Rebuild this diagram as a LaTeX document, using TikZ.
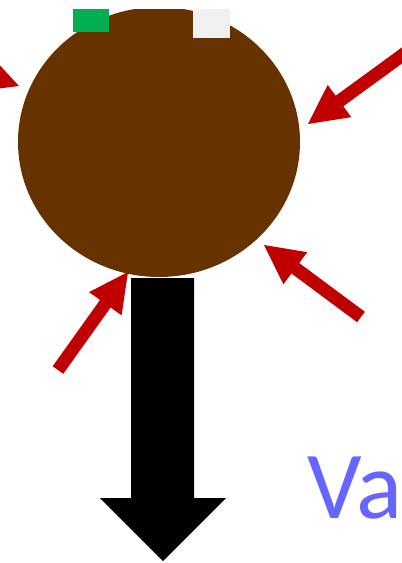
\documentclass[tikz,border=0pt]{standalone}
\usepackage{fontspec}
\setmainfont{Carlito}
\usetikzlibrary{calc}
\definecolor{brownc}{RGB}{102,51,0}
\definecolor{arrowred}{RGB}{192,0,0}
\definecolor{greenc}{RGB}{0,176,80}
\definecolor{whitec}{RGB}{240,240,240}
\definecolor{textblue}{RGB}{102,102,255}
\newcommand\fatarrow[2]{%
  \coordinate (fa-c) at ($(#2)!39pt!(#1)$);
  \fill[arrowred] ($(#1)!6.5pt!90:(#2)$) -- ($(fa-c)!6.5pt!90:(#2)$) -- ($(fa-c)!20pt!90:(#2)$)
    -- (#2) -- ($(fa-c)!20pt!-90:(#2)$) -- ($(fa-c)!6.5pt!-90:(#2)$) -- ($(#1)!6.5pt!-90:(#2)$) -- cycle;}
\begin{document}
\begin{tikzpicture}[x=1pt,y=-1pt]
\useasboundingbox (0,0) rectangle (402,563);
\clip (0,0) rectangle (402,563);
% head
\begin{scope}
\clip (0,9) rectangle (402,563);
\fill[brownc] (159,142) ellipse [x radius=141, y radius=135];
\end{scope}
\fill[greenc] (73,9) rectangle (109,32);
\fill[whitec] (193,9) rectangle (230,38);
% stem arrow
\fill[black] (131,278) -- (194,278) -- (194,498) -- (226,498) -- (163,561) -- (100,498) -- (131,498) -- cycle;
% red arrows
\coordinate (t1) at (-80,50);  \coordinate (p1) at (19,86);
\coordinate (t2) at (430,35);  \coordinate (p2) at (308,124);
\coordinate (t3) at (361,317); \coordinate (p3) at (264,245);
\coordinate (t4) at (58,370);  \coordinate (p4) at (128,272);
\fatarrow{t1}{p1}
\fatarrow{t2}{p2}
\fatarrow{t3}{p3}
\fatarrow{t4}{p4}
\node[anchor=base west, inner sep=0pt, text=textblue, font=\fontsize{96}{96}\selectfont] (va) at (307,518) {Va};
\end{tikzpicture}
\end{document}
